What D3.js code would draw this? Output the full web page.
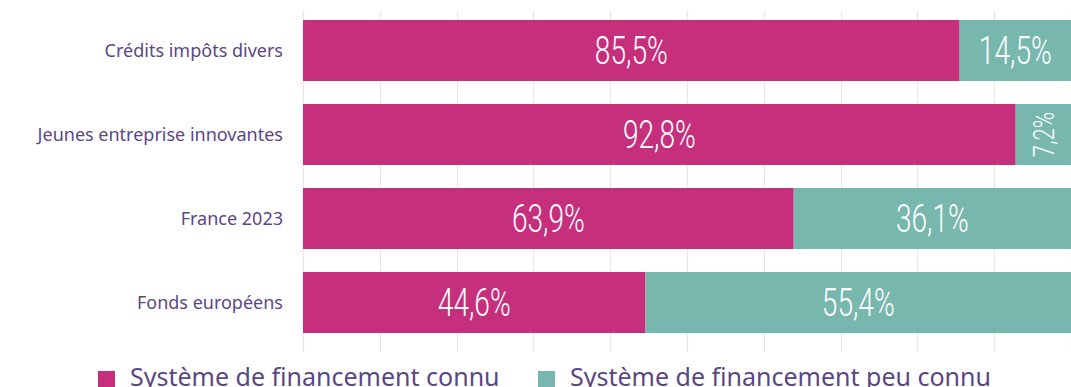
<!DOCTYPE html>
<html lang="fr">
<head>
<meta charset="utf-8">
<script src="https://cdn.jsdelivr.net/npm/d3@7"></script>
<style>
  html, body { margin: 0; padding: 0; background: #ffffff; }
  svg { display: block; }
</style>
</head>
<body>
<svg id="chart" width="1071" height="387"></svg>
<script>
// Dispositifs de financement et niveau de connaissance (%)
const categories = ["Crédits impôts divers", "Jeunes entreprise innovantes", "France 2023", "Fonds européens"];
const connu = [85.5, 92.8, 63.9, 44.6];
const peuConnu = [14.5, 7.2, 36.1, 55.4];
const seriesNames = ["Système de financement connu", "Système de financement peu connu"];
const seriesColors = ["#c52f7c", "#78b7ad"];
const xTicks = [0, 10, 20, 30, 40, 50, 60, 70, 80, 90, 100];

const svg = d3.select("#chart");

const x = d3.scaleLinear().domain([0, 100]).range([303, 1071]);
const y = d3.scaleBand().domain(categories).range([20, 333]).paddingInner(23 / 84).paddingOuter(0);

// Vertical grid
svg.append("g").selectAll("line").data(xTicks).join("line")
  .attr("x1", d => Math.round(x(d)) + 0.5).attr("x2", d => Math.round(x(d)) + 0.5)
  .attr("y1", 11).attr("y2", 352)
  .attr("stroke", "#e8e7e2").attr("stroke-width", 1.2);

// Stacked data
const rows = categories.map((c, i) => ({ cat: c, values: [connu[i], peuConnu[i]] }));
const stack = d3.stack().keys([0, 1]).value((d, k) => d.values[k]);
const layers = stack(rows);

const fmt = v => d3.format(".1f")(v).replace(".", ",") + "%";

layers.forEach((layer, k) => {
  const g = svg.append("g");
  g.selectAll("rect").data(layer).join("rect")
    .attr("x", d => x(d[0]))
    .attr("width", d => x(d[1]) - x(d[0]))
    .attr("y", d => y(d.data.cat))
    .attr("height", y.bandwidth())
    .attr("fill", seriesColors[k]);

  g.selectAll("text").data(layer).join("text")
    .attr("transform", d => {
      const cx = (x(d[0]) + x(d[1])) / 2;
      const cy = y(d.data.cat) + y.bandwidth() / 2;
      const w = x(d[1]) - x(d[0]);
      return w < 70
        ? `translate(${cx},${cy}) rotate(-90) scale(0.74,1)`
        : `translate(${cx},${cy}) scale(0.74,1)`;
    })
    .attr("text-anchor", "middle")
    .attr("dy", "0.36em")
    .attr("fill", "#ffffff")
    .style("font-family", "Roboto, 'Liberation Sans', sans-serif")
    .style("font-weight", 300)
    .style("font-size", d => (x(d[1]) - x(d[0]) < 70 ? "30px" : "38px"))
    .text(d => fmt(d[1] - d[0]));
});

// Category labels
svg.append("g").selectAll("text").data(categories).join("text")
  .attr("x", 283)
  .attr("y", d => y(d) + y.bandwidth() / 2)
  .attr("dy", "0.35em")
  .attr("text-anchor", "end")
  .attr("fill", "#5b4785")
  .style("font-family", "'Noto Sans', 'Open Sans', sans-serif")
  .style("font-size", "18px")
  .text(d => d);

// Legend
const legend = svg.append("g");
const legendX = [98, 538];
seriesNames.forEach((name, k) => {
  legend.append("rect")
    .attr("x", legendX[k]).attr("y", 371)
    .attr("width", 17).attr("height", 17)
    .attr("fill", seriesColors[k]);
  legend.append("text")
    .attr("x", legendX[k] + 32).attr("y", 386)
    .attr("fill", "#5b4785")
    .style("font-family", "'Noto Sans', 'Open Sans', sans-serif")
    .style("font-size", "25px")
    .text(name);
});
</script>
</body>
</html>
